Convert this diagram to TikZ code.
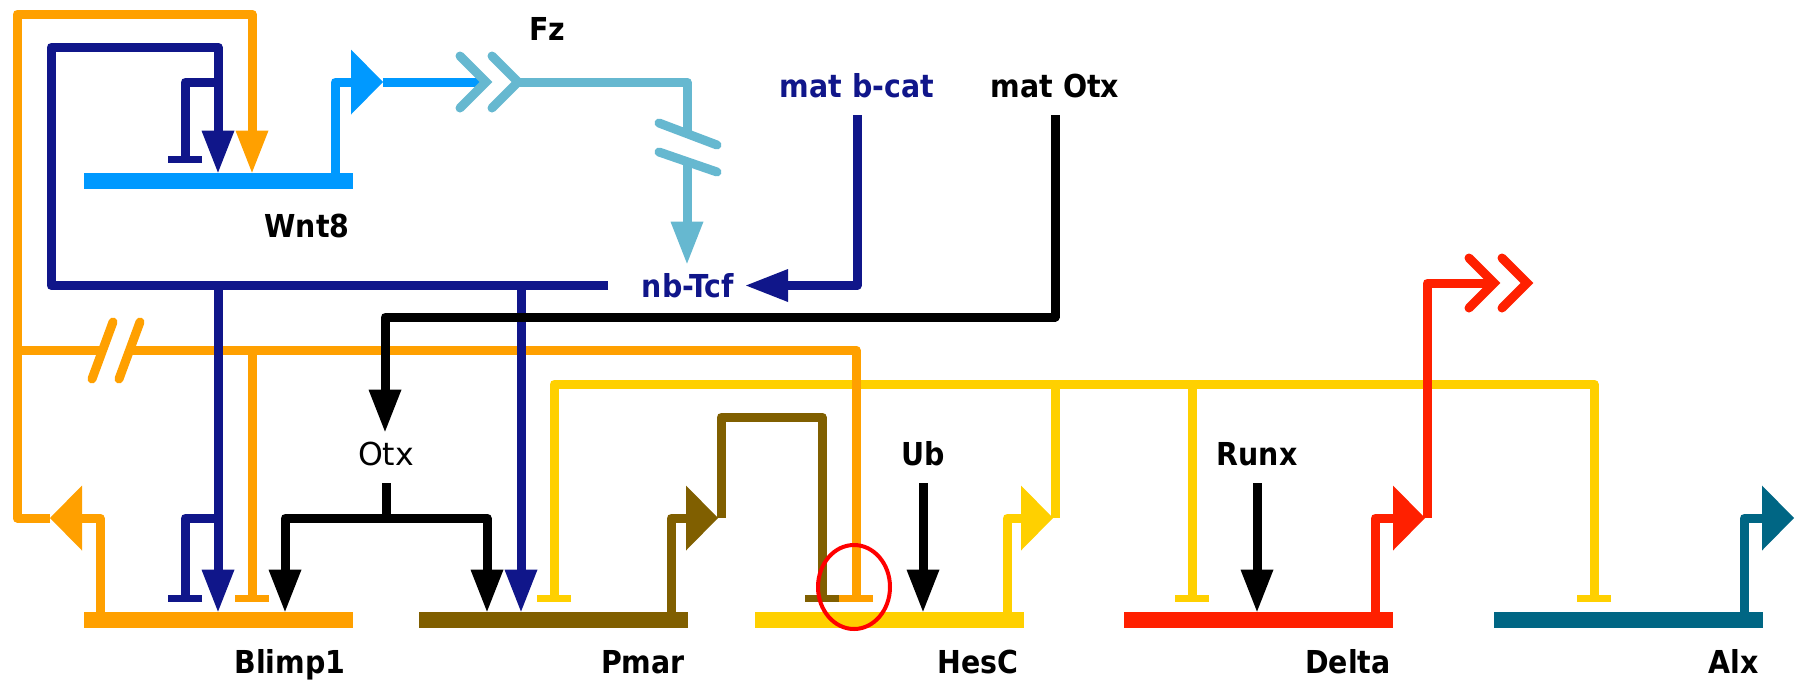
\documentclass[tikz,border=0pt]{standalone}
\usepackage{fontspec}
\usetikzlibrary{arrows.meta}
\newfontfamily\lblfont{DejaVu Sans Condensed}
\newfontfamily\lblreg{DejaVu Sans}
\definecolor{cOrange}{RGB}{255,160,0}
\definecolor{cNavy}{RGB}{16,22,138}
\definecolor{cWnt}{RGB}{0,153,255}
\definecolor{cFz}{RGB}{102,184,208}
\definecolor{cPmar}{RGB}{128,95,0}
\definecolor{cHesc}{RGB}{255,208,0}
\definecolor{cDelta}{RGB}{255,32,0}
\definecolor{cAlx}{RGB}{0,102,132}
\begin{document}
\begin{tikzpicture}[x=0.5pt,y=-0.5pt,
  wire/.style={line width=4.5pt, line join=round},
  act/.style={-{Triangle[length=21pt,width=16.5pt,line width=0pt]}},
  acts/.style={act, shorten >=5pt},
  prom/.style={-{Triangle[length=16pt,width=32.5pt,line width=0pt]}},
  rep/.style={-{Bar[width=17pt,line width=3.5pt]}, shorten >=5pt},
  gene/.style={rectangle, inner sep=0pt, minimum width=134.5pt, minimum height=8pt},
  lbl/.style={inner sep=0pt, text height=11.5pt, text depth=0pt, anchor=base,
    font=\lblfont\bfseries\fontsize{15.8}{18}\selectfont},
  brk/.style={line width=4.5pt, line cap=round},
  chev/.style={line width=4.5pt, line cap=round, line join=miter},
]
\useasboundingbox (0,0) rectangle (1806,687);

% gene bars
\node[gene, fill=cWnt] (wnt) at (218.5,181) {};
\node[gene, fill=cOrange] (blimp) at (218.5,620) {};
\node[gene, fill=cPmar] (pmar) at (553,620) {};
\node[gene, fill=cHesc] (hesc) at (889,620) {};
\node[gene, fill=cDelta] (delta) at (1258.5,620) {};
\node[gene, fill=cAlx] (alx) at (1628,620) {};

% labels
\node[lbl] (wntL) at (307,237) {Wnt8};
\node[lbl] (fzL) at (547,40) {Fz};
\node[lbl, text=cNavy] (matbL) at (857,97) {mat b-cat};
\node[lbl] (matoL) at (1055,97) {mat Otx};
\node[lbl, text=cNavy] (tcfL) at (688,297) {nb-Tcf};
\node[lbl, font=\lblreg\fontsize{15.8}{18}\selectfont] (otxL) at (386,465) {Otx};
\node[lbl] (ubL) at (923,465) {Ub};
\node[lbl] (runxL) at (1257,465) {Runx};
\node[lbl] (blimpL) at (290,673) {Blimp1};
\node[lbl] (pmarL) at (643,673) {Pmar};
\node[lbl] (hescL) at (978,673) {HesC};
\node[lbl] (deltaL) at (1348,673) {Delta};
\node[lbl] (alxL) at (1734,673) {Alx};

% HesC output (yellow)
\draw[wire, cHesc, prom] (hesc.north -| 1007,0) |- (1053,518);
\draw[wire, cHesc] (1055,518) -- (1055,384) coordinate (yJ);
\draw[wire, cHesc, rep] (yJ) -| (pmar.north -| 554,0);
\draw[wire, cHesc, rep] (yJ) -| (alx.north -| 1594,0);
\draw[wire, cHesc, rep] (1192,384) -- (delta.north -| 1192,0);

% Pmar output (brown)
\draw[wire, cPmar, prom] (pmar.north -| 671,0) |- (718,518);
\draw[wire, cPmar, rep] (721,518) |- (822,417) -- (hesc.north -| 822,0);

% Blimp1 output (orange)
\draw[wire, cOrange, prom] (blimp.north -| 100,0) |- (50,518);
\draw[wire, cOrange, act] (50,518) -| (17,14) -| (wnt.north -| 252,0);
\draw[wire, cOrange, rep] (17,350) -| (hesc.north -| 856,0);
\draw[wire, cOrange, rep] (252,350) -- (blimp.north -| 252,0);
\fill[white] (92,379) -- (113,322) -- (140,322) -- (119,379) -- cycle;
\draw[brk, cOrange] (92,379) -- (113,322);
\draw[brk, cOrange] (119,379) -- (140,322);

% nb-Tcf output (navy)
\draw[wire, cNavy, act] (tcfL.west -| 608,0) -| (51,47) -| (wnt.north -| 218,0);
\draw[wire, cNavy, rep] (218,82) -| (wnt.north -| 185,0);
\draw[wire, cNavy, act] (218,283) -- (blimp.north -| 218,0);
\draw[wire, cNavy, rep] (218,518) -| (blimp.north -| 185,0);
\draw[wire, cNavy, act] (521,283) -- (pmar.north -| 521,0);
\draw[wire, cNavy, act] ([yshift=-9pt]matbL.south) |- (tcfL.east -| 746,0);

% Otx (black)
\draw[wire, black, acts] ([yshift=-9pt]matoL.south) |- (385,317) -- (otxL.north -| 385,0);
\draw[wire, black] ([yshift=-9pt]otxL.south) -- (386,518) coordinate (oJ);
\draw[wire, black, act] (oJ) -| (blimp.north -| 285,0);
\draw[wire, black, act] (oJ) -| (pmar.north -| 487,0);
\draw[wire, black, act] ([yshift=-9pt]ubL.south) -- (hesc.north -| ubL.south);
\draw[wire, black, act] ([yshift=-9pt]runxL.south) -- (delta.north -| runxL.south);

% Wnt8 output and Fz
\draw[wire, cWnt, prom] (wnt.north -| 335,0) |- (383,82);
\draw[wire, cWnt] (383,82) -- (486,82);
\draw[chev, cFz] (460,56) -- (486,82) -- (460,108);
\draw[chev, cFz] (492,56) -- (518,82) -- (492,108);
\draw[wire, cFz, acts] (518,82) -| (tcfL.north -| 687,0);
\fill[white] (659,123) -- (717,145) -- (717,172) -- (659,152) -- cycle;
\draw[brk, cFz] (659,123) -- (717,145);
\draw[brk, cFz] (659,152) -- (717,172);

% Delta output (red)
\draw[wire, cDelta, prom] (delta.north -| 1375,0) |- (1425,518);
\draw[wire, cDelta] (1427,518) |- (1494,283);
\draw[chev, cDelta] (1469,258) -- (1494,283) -- (1469,308);
\draw[chev, cDelta] (1502,258) -- (1527,283) -- (1502,308);

% Alx output (teal)
\draw[wire, cAlx, prom] (alx.north -| 1744,0) |- (1794,518);

% highlight
\draw[red, line width=2pt] (854,587) ellipse [x radius=18pt, y radius=21pt];
\end{tikzpicture}
\end{document}
